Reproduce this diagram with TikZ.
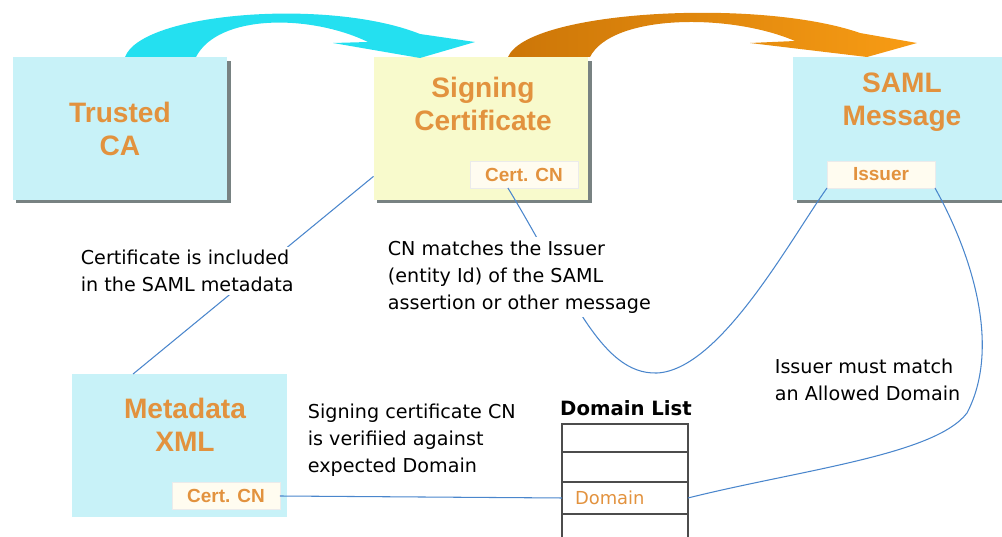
\documentclass[tikz,border=0pt]{standalone}
\usepackage{fontspec}
\setmainfont{DejaVu Sans}
\newfontfamily\titlefont{Liberation Sans}
\usetikzlibrary{arrows.meta,positioning,shadows}

\definecolor{cafill}{RGB}{200,242,248}
\definecolor{certfill}{RGB}{248,250,204}
\definecolor{titleorange}{RGB}{226,146,62}
\definecolor{linkblue}{RGB}{74,134,204}
\definecolor{arrowcyan}{RGB}{36,224,240}
\definecolor{arrowdark}{RGB}{204,118,8}
\definecolor{arrowlight}{RGB}{248,156,20}
\definecolor{subfill}{RGB}{255,252,240}
\definecolor{shadowgray}{RGB}{120,130,130}

\begin{document}
\begin{tikzpicture}[x=0.02cm,y=-0.02cm,
  bigbox/.style={fill=cafill,minimum width=4.3cm,minimum height=2.86cm,inner sep=0pt,outer sep=0pt},
  boxshadow/.style={drop shadow={shadow xshift=2pt,shadow yshift=-2pt,fill=shadowgray,opacity=1}},
  boxtitle/.style={text=titleorange,font=\titlefont\bfseries\fontsize{16}{18.5}\selectfont,align=center},
  subbox/.style={fill=subfill,draw=black!8,minimum width=2.16cm,minimum height=0.54cm,inner sep=0pt,outer sep=0pt,
    text=titleorange,font=\titlefont\bfseries\fontsize{10.8}{12}\selectfont},
  note/.style={fill=white,align=left,inner sep=2pt,font=\fontsize{10.9}{15.3}\selectfont},
  cell/.style={draw=black!70,line width=0.8pt,minimum width=2.52cm,inner sep=0pt,outer sep=0pt},
  link/.style={draw=linkblue,line width=0.6pt}]
\useasboundingbox (0,0) rectangle (1002,537);
\clip (0,0) rectangle (1002,537);

% boxes
\node[bigbox,boxshadow] (ca) at (120,128.5) {};
\node[bigbox,boxshadow,fill=certfill] (sign) at (481,128.5) {};
\node[bigbox,boxshadow] (saml) at (900.5,128.5) {};
\node[bigbox] (meta) at (179.5,445.5) {};

\node[boxtitle] (catitle) at (120,129) {Trusted\\CA};
\node[boxtitle] (signtitle) at (483,104) {Signing\\Certificate};
\node[boxtitle] (samltitle) at (902,102) {SAML\\Message};
\node[boxtitle] (metatitle) at (185,425) {Metadata\\XML};

\node[subbox] (signcn) at (524,174.5) {Cert. CN};
\node[subbox] (issuer) at (881,174.5) {Issuer};
\node[subbox] (metacn) at (226,496) {Cert. CN};

% domain list
\node[font=\bfseries\fontsize{11.2}{13}\selectfont] (dltitle) at (626,408) {Domain List};
\node[cell,minimum height=0.56cm] (r1) at (625,438) {};
\node[cell,minimum height=0.6cm,below=0pt of r1] (r2) {};
\node[cell,minimum height=0.64cm,below=0pt of r2,inner xsep=0.26cm,text width=2.0cm,align=left,
  text=titleorange,font=\fontsize{10.2}{12}\selectfont] (dom) {Domain};
\node[cell,minimum height=0.64cm,below=0pt of dom] (r4) {};

% big curved arrows
\fill[arrowcyan] (125,57) .. controls (142,12) and (330,-2) .. (420,34) -- (475,42) -- (420,58) -- (333,43)
  -- (368,42) .. controls (310,14) and (218,14) .. (196,57) -- cycle;
\shade[left color=arrowdark,right color=arrowlight] (508,57) .. controls (528,10) and (760,-2) .. (860,33)
  -- (917,43) -- (867,57) -- (750,43) -- (795,41) .. controls (730,13) and (612,14) .. (590,57) -- cycle;

% connectors
\draw[link] (sign.204) -- (meta.123);
\draw[link] (signcn.220) .. controls (570,290) and (600,375) .. (657,373)
  .. controls (720,370) and (790,240) .. (issuer.south west);
\draw[link] (issuer.south east) .. controls (975,260) and (1000,350) .. (967,413)
  .. controls (935,455) and (800,470) .. (dom.east);
\draw[link] (metacn.east) -- (dom.west);

% notes
\node[note,anchor=west] (incl) at (77,271) {Certificate is included\\in the SAML metadata};
\node[note,anchor=west] (cnmatch) at (384,277) {CN matches the Issuer\\(entity Id) of the SAML\\assertion or other message};
\node[note,anchor=west] (verify) at (304,440) {Signing certificate CN\\is verifiied against\\expected Domain};
\node[note,anchor=west] (allowed) at (771,380) {Issuer must match\\an Allowed Domain};
\end{tikzpicture}
\end{document}
